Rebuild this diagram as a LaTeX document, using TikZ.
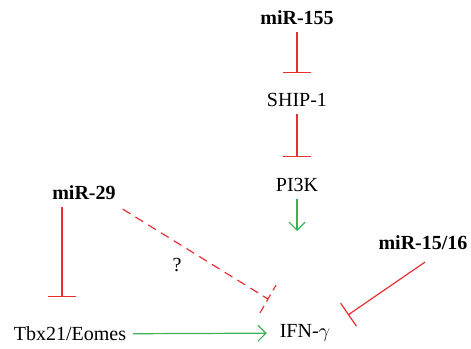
\documentclass[tikz,border=0pt]{standalone}
\usepackage{fontspec}
\setmainfont{Liberation Serif}
\usetikzlibrary{arrows.meta,calc}

\definecolor{inhred}{RGB}{232,48,52}
\definecolor{actgreen}{RGB}{60,178,84}

\tikzset{
    mir/.style={font=\bfseries},
    inhibit/.style={draw=inhred, line width=0.6pt, -{Bar[width=14pt,line width=0.6pt]}},
    activate/.style={draw=actgreen, line width=0.6pt, -{Straight Barb[length=4pt,width=8pt,line width=0.6pt]}}
}

\begin{document}
\begin{tikzpicture}[x=0.5pt, y=-0.5pt, font=\fontsize{10}{12}\selectfont]
        \useasboundingbox (0,0) rectangle (471,348);

        \node[mir] at (297, 18)      (mir155)  {miR-155};
        \node at (297, 100)          (ship1)   {SHIP-1};
        \node at (297, 185)          (pi3k)    {PI3K};
        \node[mir] at (84, 193)      (mir29)   {miR-29};
        \node[mir] at (423, 243)     (mir1516) {miR-15/16};
        \node at (70, 334)           (tbx)     {Tbx21/Eomes};
        \node at (305, 333)          (ifng)    {IFN-$\gamma$};
        \node at (177, 265)          (q)       {?};

        \coordinate (pi3kend) at (297, 231);
        \coordinate (qend)    at (268, 299);
        \coordinate (end1516) at (348, 315);
        \coordinate (mir29end) at (62, 297);

        \draw[inhibit, shorten >=6.5pt] (mir155) -- (ship1);
        \draw[inhibit, shorten >=7pt] (ship1) -- (pi3k);
        \draw[inhibit] (mir29.south -| mir29end) -- (mir29end);
        \draw[activate] (pi3k) -- (pi3kend);
        \draw[activate, shorten >=3pt] (tbx) -- (ifng);
        \draw[inhibit] (mir1516.south) ++(2,5) -- (end1516);
        \draw[inhred, line width=0.6pt, dash pattern=on 4.5pt off 3pt] (mir29.south east) ++(0,2) -- (qend);
        \draw[inhred, line width=0.6pt, dash pattern=on 4pt off 2.5pt]
            ($(qend)!8pt!90:(mir29)$) -- ($(qend)!8pt!-90:(mir29)$);
    \end{tikzpicture}
\end{document}
